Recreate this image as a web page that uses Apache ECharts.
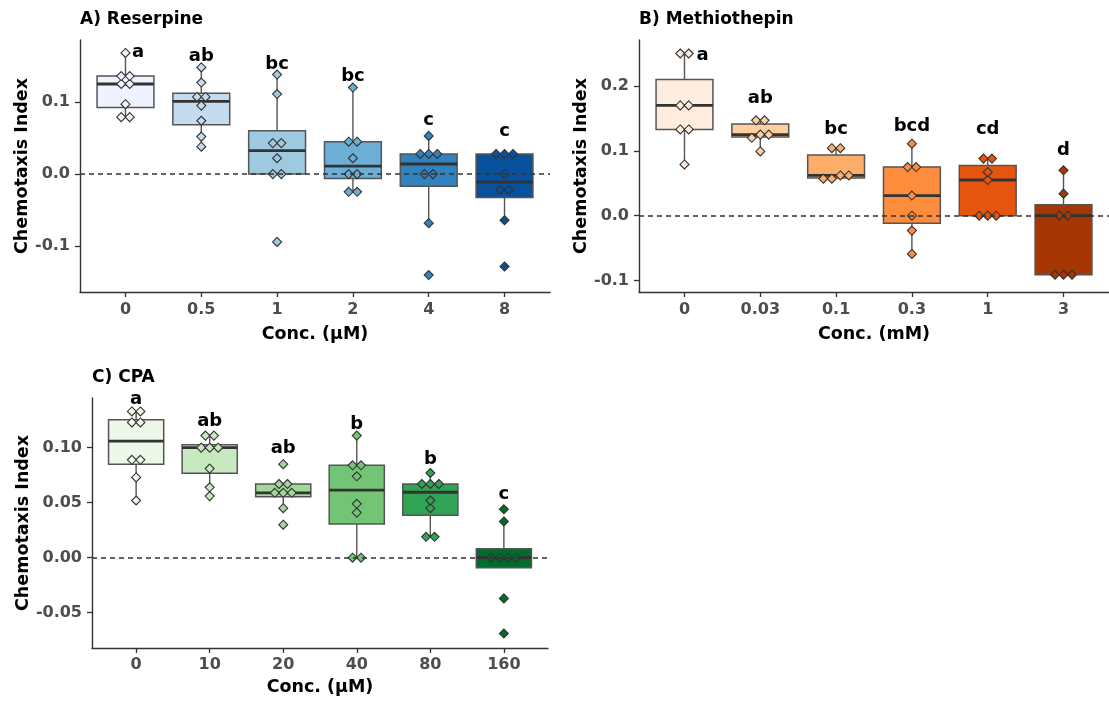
<!DOCTYPE html>
<html>
<head>
<meta charset="utf-8">
<script src="https://cdn.jsdelivr.net/npm/echarts@6/dist/echarts.min.js"></script>
<style>
  html, body { margin: 0; padding: 0; background: #ffffff; }
  #chart { width: 1109px; height: 708px; }
</style>
</head>
<body>
<div id="chart"></div>
<script>
// ---- Data -----------------------------------------------------------------
// Panel A: Reserpine, concentrations in µM
const reserpineConc = ['0', '0.5', '1', '2', '4', '8'];
const reserpineValues = [
  [0.168, 0.136, 0.136, 0.125, 0.125, 0.097, 0.079, 0.079],
  [0.148, 0.127, 0.107, 0.107, 0.095, 0.074, 0.052, 0.038],
  [0.138, 0.111, 0.043, 0.043, 0.022, 0.0, 0.0, -0.094],
  [0.120, 0.045, 0.045, 0.022, 0.0, 0.0, -0.0245, -0.0245],
  [0.053, 0.028, 0.028, 0.028, 0.0, 0.0, -0.068, -0.140],
  [0.028, 0.028, 0.028, 0.0, -0.022, -0.022, -0.064, -0.128]
];
const reserpineLetters = ['a', 'ab', 'bc', 'bc', 'c', 'c'];
const reserpineLetterY = [0.161, 0.156, 0.144, 0.128, 0.067, 0.052];
const reserpineTicks = [-0.1, 0.0, 0.1];
const reserpineTickLabels = ['-0.1', '0.0', '0.1'];

// Panel B: Methiothepin, concentrations in mM
const methioConc = ['0', '0.03', '0.1', '0.3', '1', '3'];
const methioValues = [
  [0.250, 0.250, 0.170, 0.170, 0.133, 0.133, 0.079],
  [0.147, 0.147, 0.125, 0.125, 0.120, 0.099],
  [0.104, 0.104, 0.062, 0.062, 0.057, 0.057],
  [0.111, 0.075, 0.075, 0.031, 0.0, -0.023, -0.059],
  [0.088, 0.088, 0.067, 0.055, 0.0, 0.0, 0.0],
  [0.070, 0.034, 0.0, 0.0, -0.091, -0.091, -0.091]
];
const methioLetters = ['a', 'ab', 'bc', 'bcd', 'cd', 'd'];
const methioLetterY = [0.239, 0.172, 0.124, 0.129, 0.124, 0.092];
const methioTicks = [-0.1, 0.0, 0.1, 0.2];
const methioTickLabels = ['-0.1', '0.0', '0.1', '0.2'];

// Panel C: CPA, concentrations in µM
const cpaConc = ['0', '10', '20', '40', '80', '160'];
const cpaValues = [
  [0.133, 0.133, 0.123, 0.123, 0.089, 0.089, 0.073, 0.052],
  [0.111, 0.111, 0.100, 0.100, 0.100, 0.081, 0.064, 0.056],
  [0.085, 0.067, 0.067, 0.059, 0.059, 0.059, 0.045, 0.030],
  [0.111, 0.084, 0.084, 0.074, 0.049, 0.041, 0.0, 0.0],
  [0.077, 0.067, 0.067, 0.067, 0.052, 0.045, 0.019, 0.019],
  [0.044, 0.033, 0.0, 0.0, 0.0, 0.0, -0.037, -0.069]
];
const cpaLetters = ['a', 'ab', 'ab', 'b', 'b', 'c'];
const cpaLetterY = [0.139, 0.119, 0.094, 0.116, 0.084, 0.053];
const cpaTicks = [-0.05, 0.0, 0.05, 0.10];
const cpaTickLabels = ['-0.05', '0.00', '0.05', '0.10'];

// ---- Styling --------------------------------------------------------------
const FONT = '"DejaVu Sans", "Liberation Sans", sans-serif';
const AXIS_COLOR = '#333333';
const TICK_TEXT = '#4d4d4d';
const BOX_EDGE = '#555555';
const MEDIAN_COLOR = '#333333';
const POINT_EDGE = '#333333';
const POINT_STEP = 8.5;   // horizontal spacing of points sharing a row, px
const POINT_R = 4.5;      // diamond half-size, px
const BOX_FRACTION = 0.75;

const blues = ['#eff3ff', '#c6dbef', '#9ecae1', '#6baed6', '#3182bd', '#08519c'];
const oranges = ['#feedde', '#fdd0a2', '#fdae6b', '#fd8d3c', '#e6550d', '#a63603'];
const greens = ['#edf8e9', '#c7e9c0', '#a1d99b', '#74c476', '#31a354', '#006d2c'];

// ---- Statistics (Tukey boxplot, type-7 quantiles) ----------------------------
function quantile(sorted, p) {
  const h = (sorted.length - 1) * p;
  const lo = Math.floor(h), hi = Math.ceil(h);
  return sorted[lo] + (h - lo) * (sorted[hi] - sorted[lo]);
}
function boxStats(values) {
  const s = values.slice().sort((a, b) => a - b);
  const q1 = quantile(s, 0.25), med = quantile(s, 0.5), q3 = quantile(s, 0.75);
  const iqr = q3 - q1;
  const inside = s.filter(v => v >= q1 - 1.5 * iqr - 1e-12 && v <= q3 + 1.5 * iqr + 1e-12);
  return [inside[0], q1, med, q3, inside[inside.length - 1]];
}
// Groups nearly equal values into rows and spreads each row sideways.
function dotLayout(values, tol) {
  const s = values.slice().sort((a, b) => a - b);
  const out = [];
  let row = [];
  const flush = () => {
    row.forEach((v, j) => out.push([v, j - (row.length - 1) / 2]));
    row = [];
  };
  s.forEach(v => {
    if (row.length && v - row[0] > tol) flush();
    row.push(v);
  });
  flush();
  return out;
}

// ---- Panel builder ----------------------------------------------------------
function buildPanel(i, cfg) {
  const cats = cfg.conc.map((_, k) => k + 1);

  const grid = { left: cfg.left, top: cfg.top, width: cfg.width, height: cfg.height };

  const xAxis = {
    gridIndex: i, type: 'value', min: 0.4, max: 6.6,
    name: cfg.xName, nameLocation: 'middle', nameGap: cfg.xNameGap,
    nameTextStyle: { fontFamily: FONT, fontSize: 17.5, fontWeight: 'bold', color: '#000' },
    axisLine: { show: true, onZero: false, lineStyle: { color: AXIS_COLOR, width: 1.4 } },
    axisTick: { show: true, customValues: cats, length: 5, lineStyle: { color: AXIS_COLOR, width: 1.3 } },
    axisLabel: {
      customValues: cats, margin: cfg.xLabelMargin,
      formatter: v => cfg.conc[Math.round(v) - 1],
      fontFamily: FONT, fontSize: 16, fontWeight: 'bold', color: TICK_TEXT
    },
    splitLine: { show: false }
  };

  const yAxis = {
    gridIndex: i, type: 'value', min: cfg.yMin, max: cfg.yMax,
    name: 'Chemotaxis Index', nameLocation: 'middle', nameRotate: 90, nameGap: cfg.yNameGap,
    nameTextStyle: { fontFamily: FONT, fontSize: 17.5, fontWeight: 'bold', color: '#000' },
    axisLine: { show: true, onZero: false, lineStyle: { color: AXIS_COLOR, width: 1.4 } },
    axisTick: { show: true, customValues: cfg.ticks, length: 5, lineStyle: { color: AXIS_COLOR, width: 1.3 } },
    axisLabel: {
      customValues: cfg.ticks, margin: 10,
      formatter: v => {
        const k = cfg.ticks.findIndex(t => Math.abs(t - v) < 1e-9);
        return k >= 0 ? cfg.tickLabels[k] : '';
      },
      fontFamily: FONT, fontSize: 16, fontWeight: 'bold', color: TICK_TEXT
    },
    splitLine: { show: false }
  };

  const boxData = cfg.values.map((vals, k) => [k + 1].concat(boxStats(vals)));
  const pointData = [];
  cfg.values.forEach((vals, k) => {
    dotLayout(vals, cfg.rowTol).forEach(([v, slot]) => pointData.push([k + 1, v, slot]));
  });
  const letterData = cfg.letters.map((_, k) => [k + 1 + (k === 0 ? cfg.firstLetterNudge : 0), cfg.letterY[k]]);

  const boxes = {
    type: 'custom', xAxisIndex: i, yAxisIndex: i, z: 2, silent: true,
    data: boxData,
    renderItem: (params, api) => {
      const x = api.value(0);
      const cx = api.coord([x, 0])[0];
      const half = api.size([1, 0])[0] * BOX_FRACTION / 2;
      const yLo = api.coord([x, api.value(1)])[1];
      const yQ1 = api.coord([x, api.value(2)])[1];
      const yMed = api.coord([x, api.value(3)])[1];
      const yQ3 = api.coord([x, api.value(4)])[1];
      const yHi = api.coord([x, api.value(5)])[1];
      const fill = cfg.palette[Math.round(x) - 1];
      const whisker = { stroke: BOX_EDGE, lineWidth: 1.4 };
      return {
        type: 'group',
        children: [
          { type: 'line', shape: { x1: cx, y1: yHi, x2: cx, y2: yQ3 }, style: whisker },
          { type: 'line', shape: { x1: cx, y1: yQ1, x2: cx, y2: yLo }, style: whisker },
          { type: 'rect', shape: { x: cx - half, y: yQ3, width: 2 * half, height: Math.max(yQ1 - yQ3, 0.5) },
            style: { fill: fill, stroke: BOX_EDGE, lineWidth: 1.5 } },
          { type: 'line', shape: { x1: cx - half, y1: yMed, x2: cx + half, y2: yMed },
            style: { stroke: MEDIAN_COLOR, lineWidth: 2.8 } }
        ]
      };
    }
  };

  const points = {
    type: 'custom', xAxisIndex: i, yAxisIndex: i, z: 3, silent: true,
    data: pointData,
    renderItem: (params, api) => {
      const c = api.coord([api.value(0), api.value(1)]);
      const x = c[0] + api.value(2) * POINT_STEP;
      const y = c[1];
      return {
        type: 'polygon',
        shape: { points: [[x, y - POINT_R], [x + POINT_R, y], [x, y + POINT_R], [x - POINT_R, y]] },
        style: { fill: cfg.palette[Math.round(api.value(0)) - 1], stroke: POINT_EDGE, lineWidth: 1.1 }
      };
    }
  };

  const zeroLine = {
    type: 'line', xAxisIndex: i, yAxisIndex: i, z: 4, silent: true, data: [],
    markLine: {
      silent: true, symbol: 'none', label: { show: false },
      lineStyle: { color: '#333333', width: 1.5, type: [5, 4] },
      data: [{ yAxis: 0 }]
    }
  };

  const letters = {
    type: 'custom', xAxisIndex: i, yAxisIndex: i, z: 5, silent: true,
    data: letterData,
    renderItem: (params, api) => {
      const p = api.coord([api.value(0), api.value(1)]);
      return {
        type: 'text', x: p[0], y: p[1] - 5.5,
        style: {
          text: cfg.letters[params.dataIndex],
          font: 'bold 18px ' + FONT, fill: '#000000',
          align: 'center', verticalAlign: 'middle'
        }
      };
    }
  };

  const title = {
    text: cfg.title, left: cfg.left, top: cfg.titleTop, padding: 0,
    textStyle: { fontFamily: FONT, fontSize: 17, fontWeight: 'bold', color: '#000000' }
  };

  return { grid, xAxis, yAxis, series: [boxes, points, zeroLine, letters], title };
}

const panels = [
  buildPanel(0, {
    title: 'A) Reserpine', titleTop: 11, conc: reserpineConc, values: reserpineValues,
    letters: reserpineLetters, letterY: reserpineLetterY, firstLetterNudge: 0.165,
    ticks: reserpineTicks, tickLabels: reserpineTickLabels, palette: blues,
    left: 80, top: 40, width: 470, height: 252, yMin: -0.1635, yMax: 0.186,
    xName: 'Conc. (µM)', xNameGap: 33, xLabelMargin: 10, yNameGap: 48, rowTol: 0.0055
  }),
  buildPanel(1, {
    title: 'B) Methiothepin', titleTop: 11, conc: methioConc, values: methioValues,
    letters: methioLetters, letterY: methioLetterY, firstLetterNudge: 0.24,
    ticks: methioTicks, tickLabels: methioTickLabels, palette: oranges,
    left: 639, top: 40, width: 470, height: 252, yMin: -0.1176, yMax: 0.2708,
    xName: 'Conc. (mM)', xNameGap: 33, xLabelMargin: 10, yNameGap: 48, rowTol: 0.0062
  }),
  buildPanel(2, {
    title: 'C) CPA', titleTop: 369, conc: cpaConc, values: cpaValues,
    letters: cpaLetters, letterY: cpaLetterY, firstLetterNudge: 0,
    ticks: cpaTicks, tickLabels: cpaTickLabels, palette: greens,
    left: 92, top: 398, width: 456, height: 250, yMin: -0.0821, yMax: 0.1452,
    xName: 'Conc. (µM)', xNameGap: 30, xLabelMargin: 9, yNameGap: 60, rowTol: 0.0036
  })
];

const chart = echarts.init(document.getElementById('chart'), null, { renderer: 'canvas' });
chart.setOption({
  backgroundColor: '#ffffff',
  animation: false,
  title: panels.map(p => p.title),
  grid: panels.map(p => p.grid),
  xAxis: panels.map(p => p.xAxis),
  yAxis: panels.map(p => p.yAxis),
  series: panels.reduce((acc, p) => acc.concat(p.series), [])
});
</script>
</body>
</html>
